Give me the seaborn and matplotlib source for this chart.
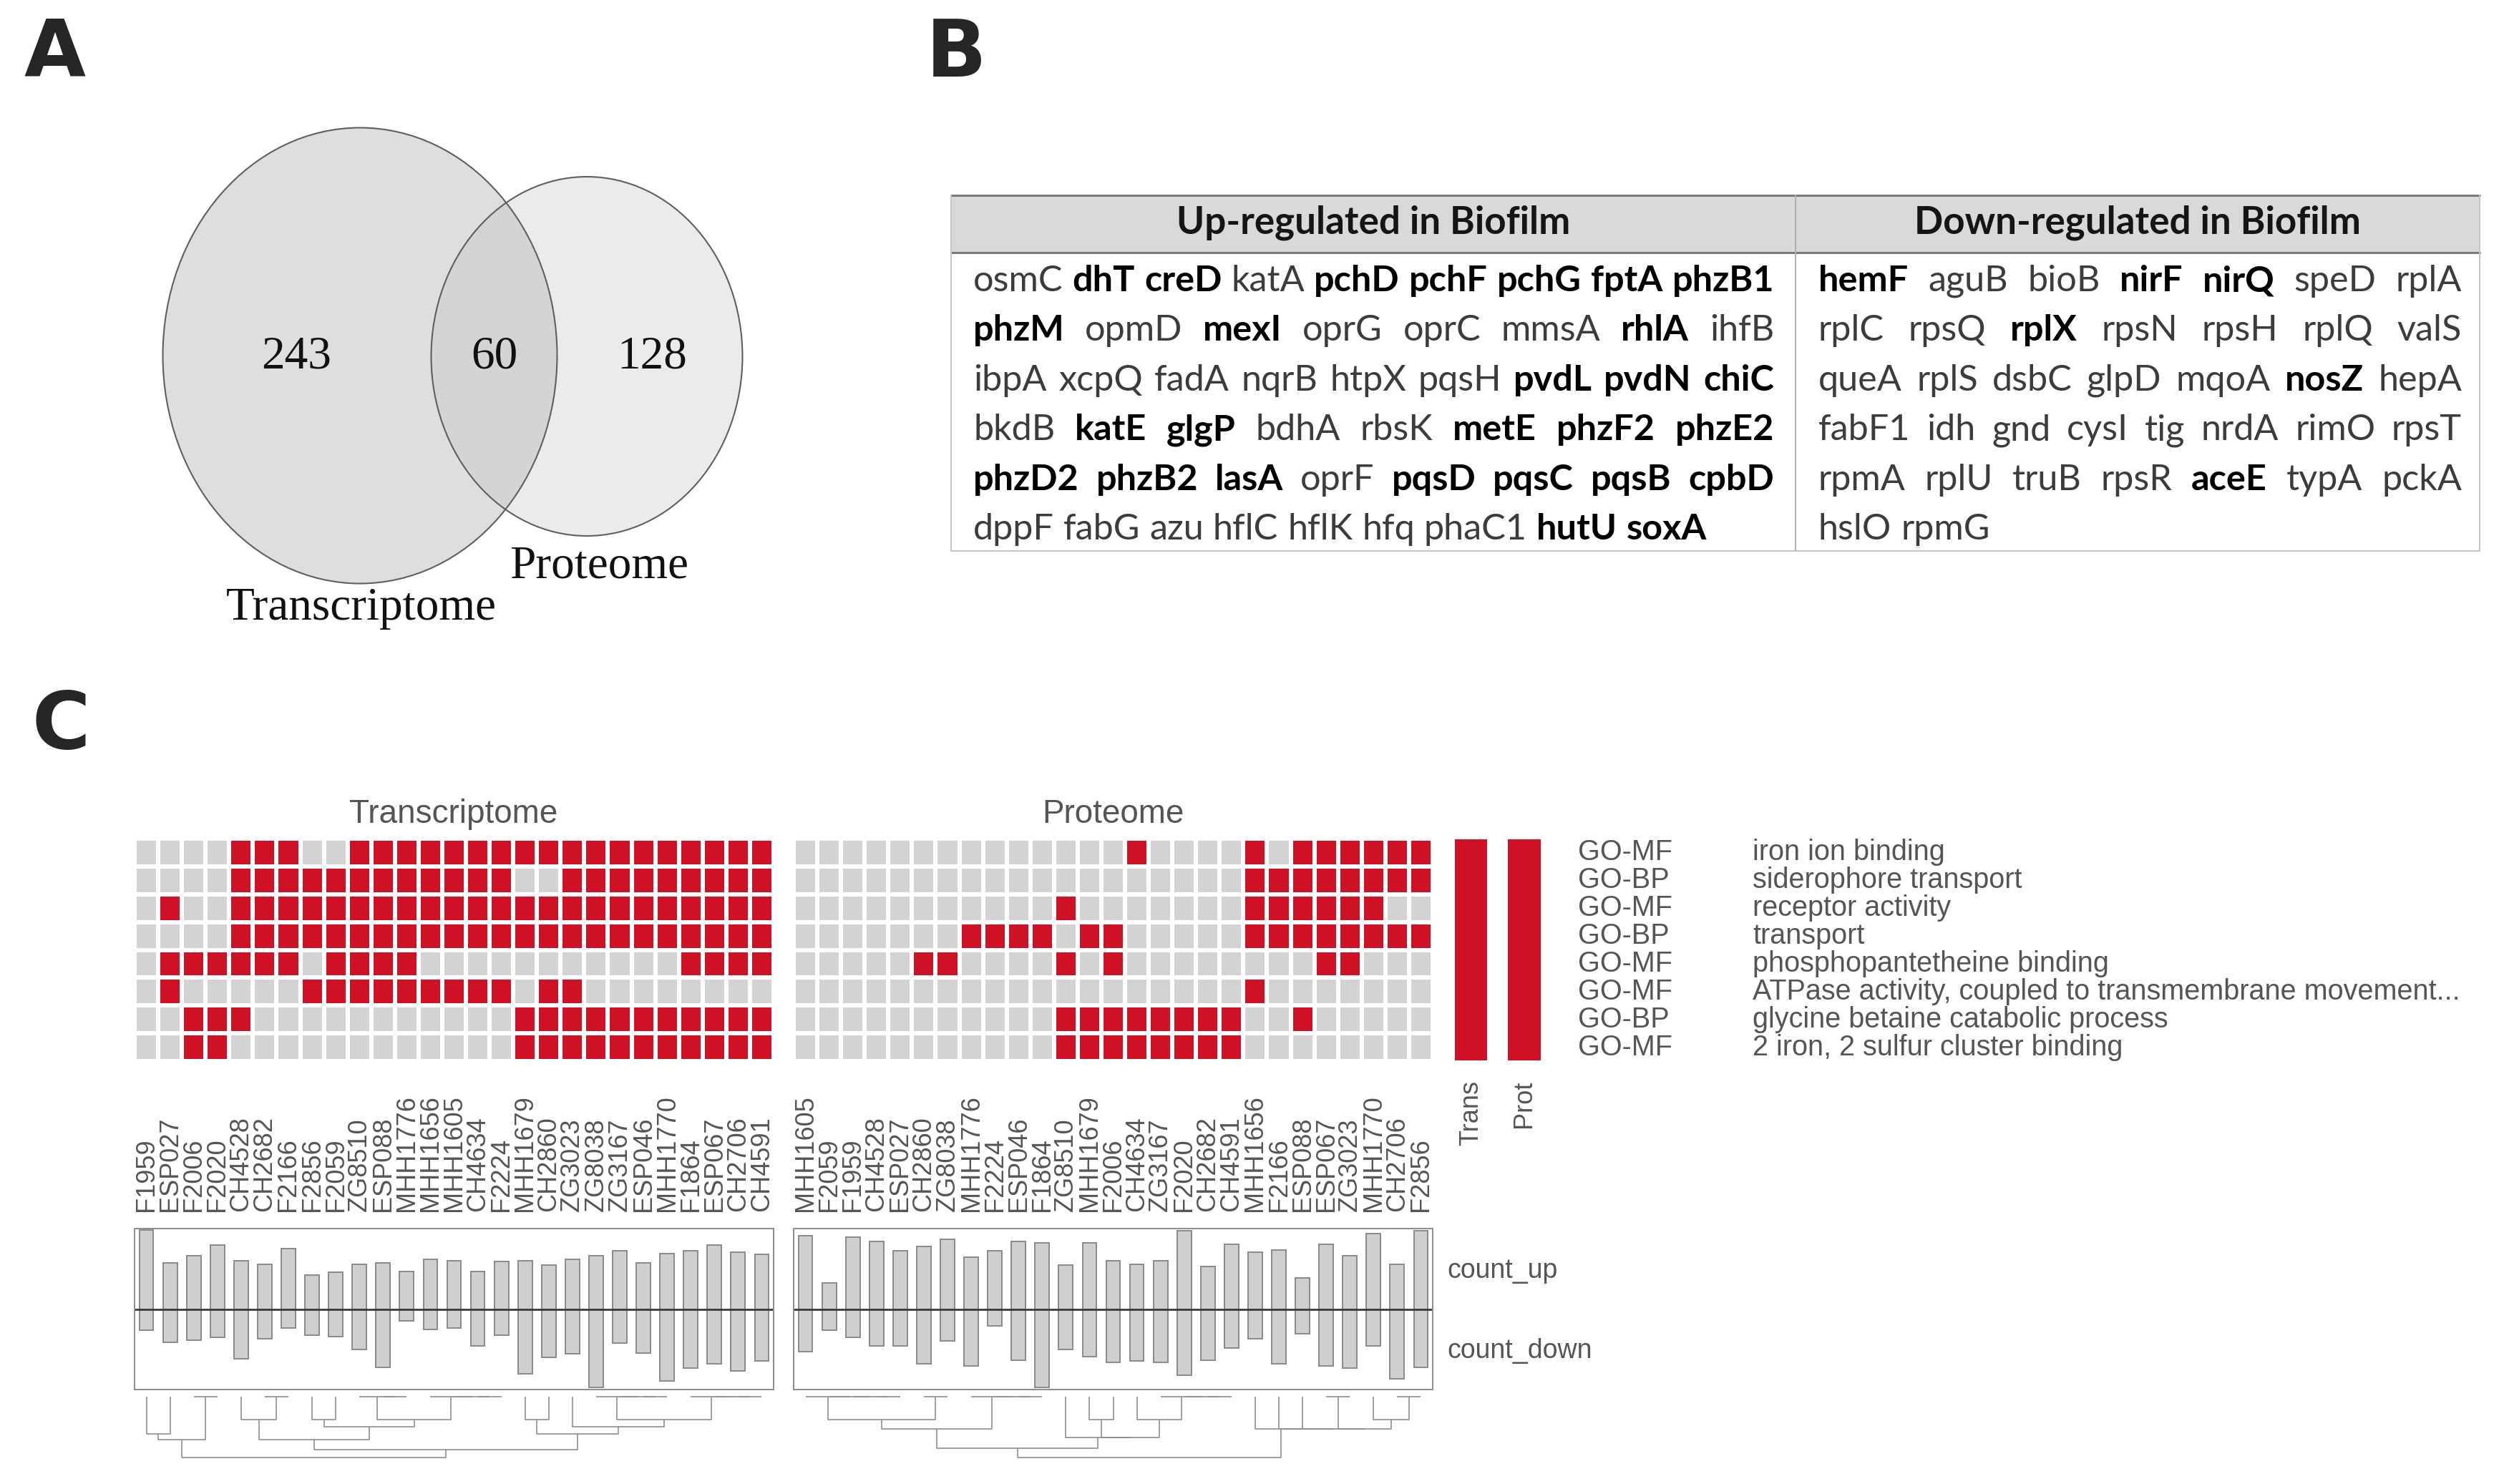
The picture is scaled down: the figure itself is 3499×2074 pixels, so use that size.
import numpy as np
import pandas as pd
import seaborn as sns
import matplotlib.pyplot as plt
from matplotlib.colors import ListedColormap
from matplotlib.patches import Ellipse, Rectangle
from matplotlib.transforms import blended_transform_factory


W, H = 3499, 2074
RED = "#cf1126"
CELL_GREY = "#d3d3d3"
TEXT_GREY = "#555555"
BAR_GREY = "#cfcfcf"
LINE_GREY = "#8c8c8c"

# Panel A: Venn counts (transcriptome only, shared, proteome only)
VENN_COUNTS = [243, 60, 128]
VENN_NAMES = ["Transcriptome", "Proteome"]

# Panel B: gene table, a leading * marks a bold gene
TABLE_HEADERS = ["Up-regulated in Biofilm", "Down-regulated in Biofilm"]
UP_GENES = [
    "osmC *dhT *creD katA *pchD *pchF *pchG *fptA *phzB1",
    "*phzM opmD *mexI oprG oprC mmsA *rhlA ihfB",
    "ibpA xcpQ fadA nqrB htpX pqsH *pvdL *pvdN *chiC",
    "bkdB *katE *glgP bdhA rbsK *metE *phzF2 *phzE2",
    "*phzD2 *phzB2 *lasA oprF *pqsD *pqsC *pqsB *cpbD",
    "dppF fabG azu hflC hflK hfq phaC1 *hutU *soxA",
]
DOWN_GENES = [
    "*hemF aguB bioB *nirF *nirQ speD rplA",
    "rplC rpsQ *rplX rpsN rpsH rplQ valS",
    "queA rplS dsbC glpD mqoA *nosZ hepA",
    "fabF1 idh gnd cysI tig nrdA rimO rpsT",
    "rpmA rplU truB rpsR *aceE typA pckA",
    "hslO rpmG",
]

# Panel C: enriched GO terms per isolate
GO_TYPES = ["GO-MF", "GO-BP", "GO-MF", "GO-BP", "GO-MF", "GO-MF", "GO-BP", "GO-MF"]
GO_TERMS = [
    "iron ion binding",
    "siderophore transport",
    "receptor activity",
    "transport",
    "phosphopantetheine binding",
    "ATPase activity, coupled to transmembrane movement...",
    "glycine betaine catabolic process",
    "2 iron, 2 sulfur cluster binding",
]
TRANS_SAMPLES = ["F1959", "ESP027", "F2006", "F2020", "CH4528", "CH2682", "F2166", "F2856",
                 "F2059", "ZG8510", "ESP088", "MHH1776", "MHH1656", "MHH1605", "CH4634",
                 "F2224", "MHH1679", "CH2860", "ZG3023", "ZG8038", "ZG3167", "ESP046",
                 "MHH1770", "F1864", "ESP067", "CH2706", "CH4591"]
PROT_SAMPLES = ["MHH1605", "F2059", "F1959", "CH4528", "ESP027", "CH2860", "ZG8038",
                "MHH1776", "F2224", "ESP046", "F1864", "ZG8510", "MHH1679", "F2006",
                "CH4634", "ZG3167", "F2020", "CH2682", "CH4591", "MHH1656", "F2166",
                "ESP088", "ESP067", "ZG3023", "MHH1770", "CH2706", "F2856"]
TRANS_HITS = [
    "000011100111111111111111111",
    "000011111111111100111111111",
    "010011111111111111111111111",
    "000011111111111111111111111",
    "011111101111000000000001111",
    "010000011111111101100000000",
    "001110000000000011111111111",
    "001100000000000011111111111",
]
PROT_HITS = [
    "000000000000001000010111111",
    "000000000000000000011111111",
    "000000000001000000011111100",
    "000000011110110000011111111",
    "000001100001010000000011000",
    "000000000000000000010000000",
    "000000000001111111100100000",
    "000000000001111111100000000",
]
IN_TRANS = [1, 1, 1, 1, 1, 1, 1, 1]
IN_PROT = [1, 1, 1, 1, 1, 1, 1, 1]

TRANS_UP = [33.5, 19.5, 22.5, 27, 20.5, 19, 25.5, 14.5, 15.5, 19, 19.5, 16, 21, 20.5, 16,
            20, 20.5, 18.5, 21, 22.5, 24.5, 19.5, 23.5, 24.5, 27, 24, 23]
TRANS_DOWN = [9, 14, 13, 12, 21, 12.5, 8, 11, 11.5, 17, 24.5, 5, 8.5, 8, 15.5,
              11, 27.5, 20.5, 19, 33, 14.5, 18.5, 30.5, 25, 23, 26, 22]
PROT_UP = [31, 11, 30.5, 28.5, 24.5, 26.5, 29.5, 22, 24.5, 28.5, 28, 18.5, 28, 20.5,
           19, 20.5, 33, 18, 27.5, 24, 25, 13, 27.5, 22.5, 32, 19, 33]
PROT_DOWN = [18, 9, 12, 15.5, 15.5, 23, 13.5, 24, 7, 21.5, 33, 17, 20, 22.5,
             22, 22.5, 28, 21.5, 16.5, 12.5, 23, 10.5, 24, 25, 15.5, 29.5, 24.5]

# Dendrograms: (left, right, height), leaves are column indices
TRANS_TREE = (
    ((0, 1, 15.5), (2, 3, 0), 18),
    (
        ((4, (5, 6, 0), 9.5),
         ((7, 8, 9.5), ((9, (10, 11, 0), 0), (12, (13, (14, 15, 0), 0), 0), 9.5), 12.5),
         18),
        ((16, 17, 9.5),
         (18, ((19, (20, (21, 22, 0), 0), 0), (23, (24, (25, 26, 0), 0), 0), 9.5), 12.5),
         15.5),
        22),
    25.5)
PROT_TREE = (
    (
        (((0, (1, (2, (3, 4, 0), 0), 0), 0), (5, 6, 0), 9.5), (7, (8, (9, 10, 0), 0), 0), 13.5),
        (11, ((12, 13, 9.5), (14, (15, (16, (17, 18, 0), 0), 0), 9.5), 17), 17),
        21.5),
    (19, (20, (21, ((22, 23, 0), (24, (25, 26, 0), 9.5), 13.5), 13.5), 13.5), 13.5),
    25.5)


def add_ax(fig, x0, y0, x1, y1, **kw):
    # axes from a pixel box (top-left origin)
    return fig.add_axes([x0 / W, 1 - y1 / H, (x1 - x0) / W, (y1 - y0) / H], **kw)


def draw_venn(bg):
    bg.add_patch(Ellipse((503, 497), 551, 637, facecolor="#dedede", edgecolor="none"))
    bg.add_patch(Ellipse((820, 498), 435, 502, facecolor="#bdbdbd", alpha=0.3, edgecolor="none"))
    bg.add_patch(Ellipse((503, 497), 551, 637, fill=False, edgecolor="#5f5f5f", lw=1.5))
    bg.add_patch(Ellipse((820, 498), 435, 502, fill=False, edgecolor="#5f5f5f", lw=1.5))
    serif = dict(family=["Liberation Serif", "DejaVu Serif"], color="#111111")
    for x, n in zip([414, 691, 911], VENN_COUNTS):
        bg.text(x, 499, str(n), ha="center", va="center", fontsize=47, **serif)
    bg.text(505, 850, VENN_NAMES[0], ha="center", va="center", fontsize=47, **serif)
    bg.text(837, 792, VENN_NAMES[1], ha="center", va="center", fontsize=47, **serif)


def parse_line(line):
    return [(w.lstrip("*"), w.startswith("*")) for w in line.split()]


def text_width(bg, renderer, s, size, bold, family):
    t = bg.text(0, 0, s, fontsize=size, fontweight="bold" if bold else "normal", family=family)
    w = t.get_window_extent(renderer).width
    t.remove()
    return w


def draw_table(fig, bg):
    left, mid, right, top, head_bot, bottom = 1329, 2509, 3465, 273, 353, 770
    bg.add_patch(Rectangle((left, top), right - left, head_bot - top, facecolor="#d9d9d9", edgecolor="none"))
    bg.plot([left, right], [top, top], color="#7a7a7a", lw=2.2)
    bg.plot([left, right], [head_bot, head_bot], color="#7a7a7a", lw=2.2)
    bg.plot([left, left, right, right], [top, bottom, bottom, top], color="#c4c4c4", lw=1.4)
    bg.plot([mid, mid], [top, bottom], color="#b0b0b0", lw=1.4)

    renderer = fig.canvas.get_renderer()
    family = ["Lato", "DejaVu Sans"]

    # header size chosen so the first header spans about 551 px
    hw = text_width(bg, renderer, TABLE_HEADERS[0], 40, True, family)
    hsize = 40 * 551 / hw
    for cx, label in zip([(left + mid) / 2, (mid + right) / 2], TABLE_HEADERS):
        bg.text(cx, 327, label, ha="center", va="baseline", fontsize=hsize,
                fontweight="bold", family=family, color="#151515")

    columns = [(UP_GENES, 1360, 2479), (DOWN_GENES, 2541, 3440)]
    base = 40
    space = text_width(bg, renderer, "a a", base, False, family) - text_width(bg, renderer, "aa", base, False, family)
    ratios = []
    for lines, x0, x1 in columns:
        for line in lines[:-1]:
            words = parse_line(line)
            natural = sum(text_width(bg, renderer, w, base, b, family) for w, b in words) + space * (len(words) - 1)
            ratios.append((x1 - x0) / natural)
    size = base * min(ratios)
    space = space * size / base

    for lines, x0, x1 in columns:
        for k, line in enumerate(lines):
            words = parse_line(line)
            widths = [text_width(bg, renderer, w, size, b, family) for w, b in words]
            gap = space if k == len(lines) - 1 else (x1 - x0 - sum(widths)) / (len(words) - 1)
            x = x0
            y = 407 + k * 69.4
            for (w, b), wd in zip(words, widths):
                bg.text(x, y, w, ha="left", va="baseline", fontsize=size, family=family,
                        fontweight="bold" if b else "normal", color="#000000" if b else "#3c3c3c")
                x += wd + gap


def draw_hits(ax, rows, samples):
    mat = pd.DataFrame([[int(c) for c in r] for r in rows], index=GO_TERMS, columns=samples)
    sns.heatmap(mat, ax=ax, cmap=ListedColormap([CELL_GREY, RED]), vmin=0, vmax=1, cbar=False,
                linewidths=4, linecolor="white", xticklabels=False, yticklabels=False)
    ax.set(xlabel="", ylabel="")


def draw_membership(ax, values):
    mat = pd.DataFrame({"m": values}, index=GO_TERMS)
    sns.heatmap(mat, ax=ax, cmap=ListedColormap([RED]), cbar=False, linewidths=0.6,
                linecolor=RED, xticklabels=False, yticklabels=False)
    ax.set(xlabel="", ylabel="")


def draw_counts(ax, samples, up, down):
    df = pd.DataFrame({"sample": samples, "up": up, "down": down})
    df["neg_down"] = -df["down"]
    for col in ["up", "neg_down"]:
        sns.barplot(data=df, x="sample", y=col, ax=ax, color=BAR_GREY, saturation=1,
                    edgecolor="#8a8a8a", linewidth=1.4, width=0.6)
    ax.axhline(0, color="#3a3a3a", lw=2)
    ax.set_ylim(-34, 34)
    ax.set_xlim(-0.5, len(samples) - 0.5)
    ax.set(xlabel="", ylabel="", xticks=[], yticks=[])
    for s in ax.spines.values():
        s.set_color(LINE_GREY)
        s.set_linewidth(1.4)


def draw_tree(ax, node):
    if isinstance(node, int):
        return float(node), 0.0
    left, right, h = node
    xl, hl = draw_tree(ax, left)
    xr, hr = draw_tree(ax, right)
    ax.plot([xl, xl, xr, xr], [hl, h, h, hr], color="#8f8f8f", lw=1.2, solid_capstyle="butt")
    return (xl + xr) / 2, h


def main():
    sns.set_style("white")
    plt.rcParams["font.family"] = ["Liberation Sans", "DejaVu Sans"]

    fig = plt.figure(figsize=(W / 100, H / 100), dpi=100)
    bg = fig.add_axes([0, 0, 1, 1], zorder=-1)
    bg.set_xlim(0, W)
    bg.set_ylim(H, 0)
    bg.axis("off")

    for x, y, lab in [(33, 106, "A"), (1294, 107, "B"), (44, 1046, "C")]:
        bg.text(x, y, lab, fontsize=80, fontweight="bold", family="DejaVu Sans", va="baseline")

    draw_venn(bg)
    draw_table(fig, bg)

    # panel C
    ax_t = add_ax(fig, 188, 1172, 1081, 1483)
    ax_p = add_ax(fig, 1109, 1172, 2002, 1483)
    ax_in_t = add_ax(fig, 2033, 1173, 2078, 1482)
    ax_in_p = add_ax(fig, 2107, 1173, 2153, 1482)
    draw_hits(ax_t, TRANS_HITS, TRANS_SAMPLES)
    draw_hits(ax_p, PROT_HITS, PROT_SAMPLES)
    draw_membership(ax_in_t, IN_TRANS)
    draw_membership(ax_in_p, IN_PROT)

    bg.text(634, 1150, "Transcriptome", ha="center", va="baseline", fontsize=33, color=TEXT_GREY)
    bg.text(1555, 1150, "Proteome", ha="center", va="baseline", fontsize=33, color=TEXT_GREY)

    for ax, samples in [(ax_t, TRANS_SAMPLES), (ax_p, PROT_SAMPLES)]:
        tr = blended_transform_factory(ax.transData, bg.transData)
        for i, name in enumerate(samples):
            bg.text(i + 0.5, 1693, name, transform=tr, rotation=90, ha="center", va="bottom",
                    fontsize=26, color=TEXT_GREY)

    for ax, name in [(ax_in_t, "Trans"), (ax_in_p, "Prot")]:
        tr = blended_transform_factory(ax.transData, bg.transData)
        bg.text(0.5, 1510, name, transform=tr, rotation=90, ha="center", va="top",
                fontsize=26, color=TEXT_GREY)

    tr = blended_transform_factory(bg.transData, ax_t.transData)
    for i, (kind, term) in enumerate(zip(GO_TYPES, GO_TERMS)):
        bg.text(2205, i + 0.5, kind, transform=tr, ha="left", va="center", fontsize=28.5, color=TEXT_GREY)
        bg.text(2449, i + 0.5, term, transform=tr, ha="left", va="center", fontsize=28.5, color=TEXT_GREY)

    ax_bt = add_ax(fig, 188, 1717, 1081, 1942)
    ax_bp = add_ax(fig, 1109, 1717, 2002, 1942)
    draw_counts(ax_bt, TRANS_SAMPLES, TRANS_UP, TRANS_DOWN)
    draw_counts(ax_bp, PROT_SAMPLES, PROT_UP, PROT_DOWN)
    bg.text(2022, 1776, "count_up", ha="left", va="center", fontsize=27, color=TEXT_GREY)
    bg.text(2022, 1888, "count_down", ha="left", va="center", fontsize=27, color=TEXT_GREY)

    for x0, x1, tree, n in [(188, 1081, TRANS_TREE, len(TRANS_SAMPLES)),
                            (1109, 2002, PROT_TREE, len(PROT_SAMPLES))]:
        ax_d = add_ax(fig, x0, 1950, x1, 2039)
        draw_tree(ax_d, tree)
        ax_d.set_xlim(-0.5, n - 0.5)
        ax_d.set_ylim(26, -0.6)
        ax_d.axis("off")

    fig.savefig("out.png", dpi=100)


if __name__ == "__main__":
    main()
